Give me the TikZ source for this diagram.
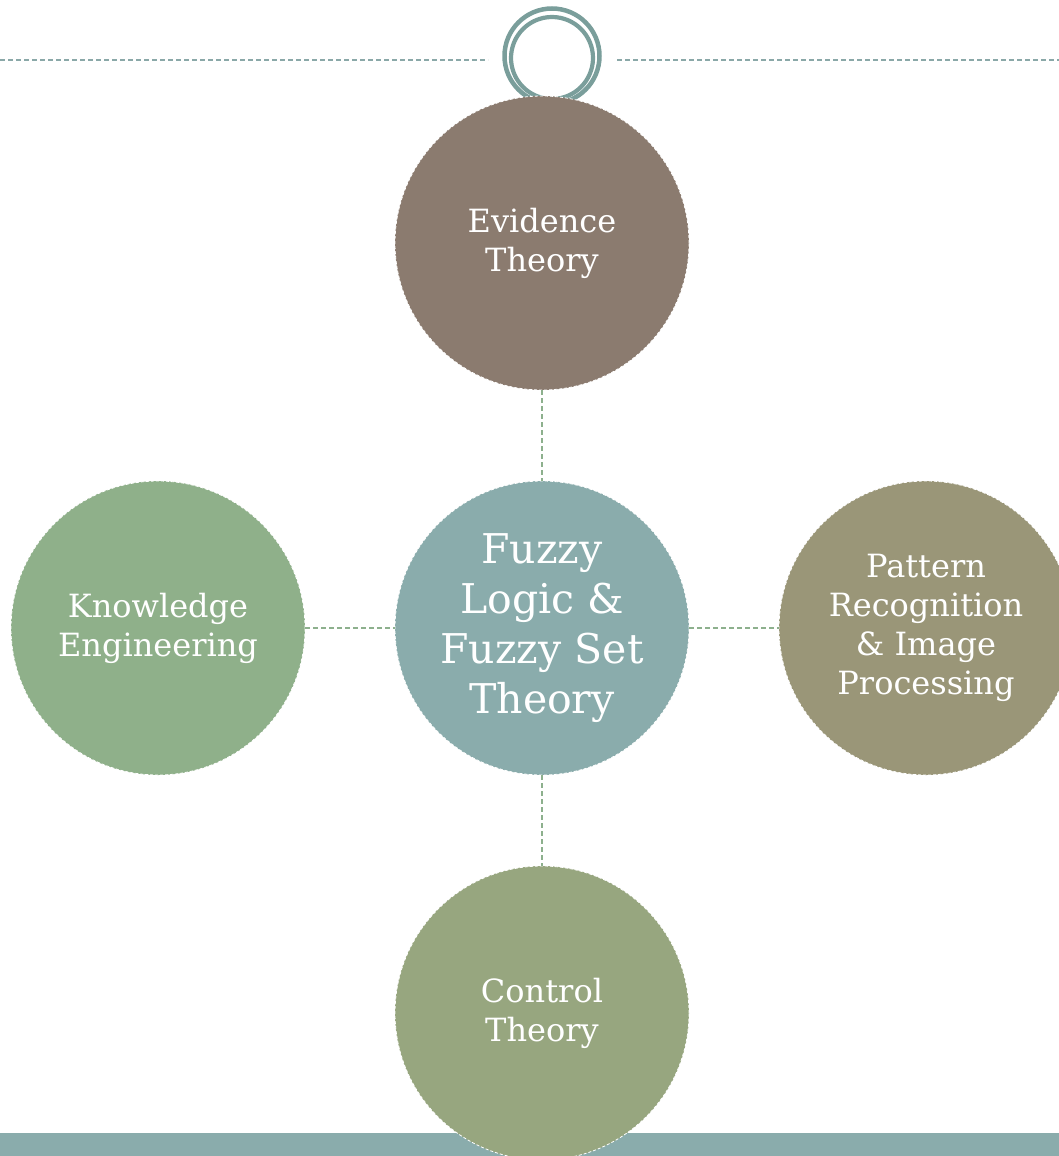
\documentclass[tikz,border=0pt]{standalone}
\usepackage{fontspec}
\setmainfont{DejaVu Serif}
\definecolor{ringc}{HTML}{7A9E9B}
\definecolor{topline}{HTML}{8AA8A8}
\definecolor{conn}{HTML}{8DB08D}
\definecolor{cEvid}{HTML}{8B7B6F}
\definecolor{cFuzzy}{HTML}{8AACAC}
\definecolor{cKnow}{HTML}{8FB08A}
\definecolor{cPatt}{HTML}{9A9678}
\definecolor{cCtrl}{HTML}{97A67F}
\definecolor{band}{HTML}{8AACAC}
\tikzset{
  bubble/.style={circle, minimum size=294pt, inner sep=0pt, draw=white, dashed, line width=0.8pt,
    dash pattern=on 3pt off 2pt, text=white, align=center,
    font=\fontsize{32}{39}\selectfont},
  bigbubble/.style={bubble, font=\fontsize{41}{50}\selectfont},
  connector/.style={draw=conn, line width=1.5pt, dash pattern=on 5pt off 3pt},
  headline/.style={draw=topline, line width=1.2pt, dash pattern=on 5pt off 3pt},
}
\begin{document}
\begin{tikzpicture}[x=1pt,y=-1pt]
\clip (0,0) rectangle (1059,1156);
\useasboundingbox (0,0) rectangle (1059,1156);
% bottom band
\fill[band] (0,1133) rectangle (1059,1156);
% top dashed rule and ring
\coordinate (hlA) at (0,60);
\coordinate (hlB) at (488,60);
\coordinate (hlC) at (617,60);
\coordinate (hlD) at (1059,60);
\draw[headline] (hlA) -- (hlB);
\draw[headline] (hlC) -- (hlD);
\node (ringout) at (552,56) [circle, minimum size=95pt, inner sep=0pt, draw=ringc, line width=4.5pt] {};
\node (ringin) at (552,58) [circle, minimum size=82pt, inner sep=0pt, draw=ringc, line width=4.2pt] {};
% nodes
\node[bubble, fill=cEvid] (evid) at (542,243) {Evidence\\Theory};
\node[bigbubble, fill=cFuzzy] (fuzzy) at (542,628) {Fuzzy\\Logic \&\\Fuzzy Set\\Theory};
\node[bubble, fill=cKnow] (know) at (158,628) {Knowledge\\Engineering};
\node[bubble, fill=cPatt] (patt) at (926,628) {Pattern\\Recognition\\\& Image\\Processing};
\node[bubble, fill=cCtrl] (ctrl) at (542,1013) {Control\\Theory};
% connectors
\draw[connector] (evid.south) -- (fuzzy.north);
\draw[connector] (know.east) -- (fuzzy.west);
\draw[connector] (fuzzy.east) -- (patt.west);
\draw[connector] (fuzzy.south) -- (ctrl.north);
\end{tikzpicture}
\end{document}
